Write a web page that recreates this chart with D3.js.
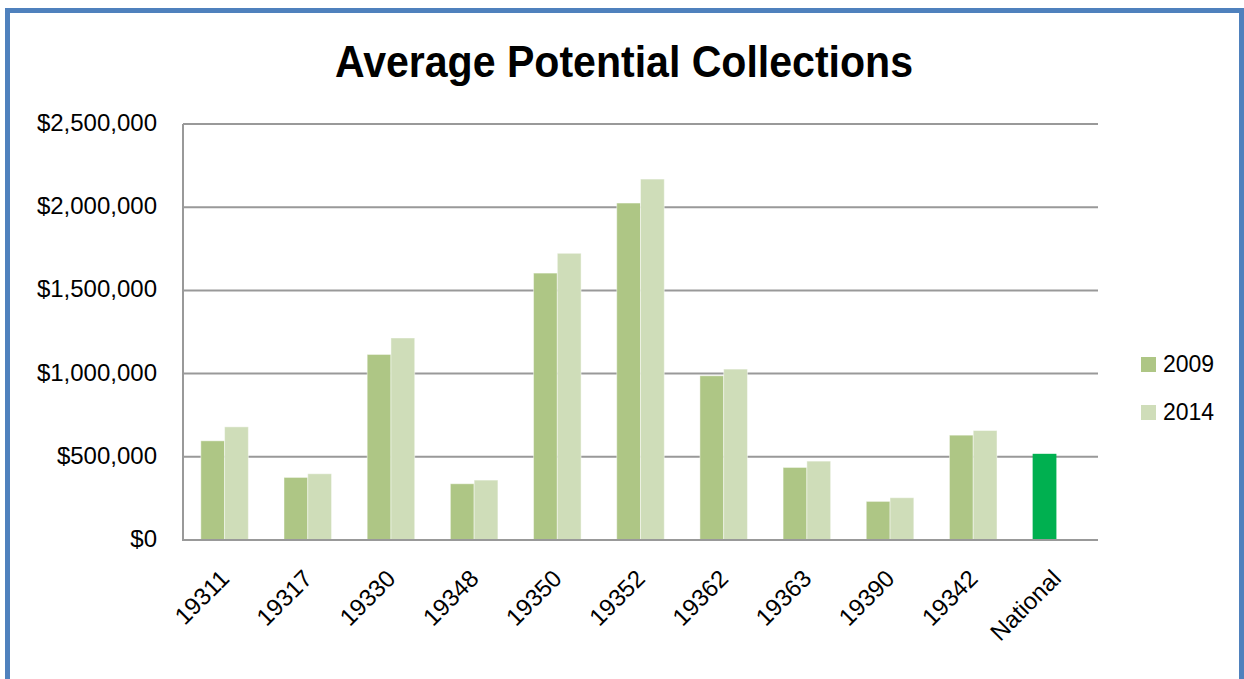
<!DOCTYPE html>
<html>
<head>
<meta charset="utf-8">
<script src="https://cdn.jsdelivr.net/npm/d3@7"></script>
<style>
  html, body { margin: 0; padding: 0; background: #fff; }
  svg { display: block; }
  text { font-family: "Liberation Sans", Arial, sans-serif; fill: #000; }
</style>
</head>
<body>
<svg id="chart" width="1244" height="679"></svg>
<script>
// Zip codes compared against the national figure
const categories = ["19311", "19317", "19330", "19348", "19350", "19352", "19362", "19363", "19390", "19342", "National"];
const seriesNames = ["2009", "2014"];
const values2009 = [596000, 376000, 1115000, 338000, 1604000, 2025000, 987000, 436000, 232000, 630000, 518000];
const values2014 = [680000, 398000, 1214000, 360000, 1723000, 2169000, 1027000, 474000, 254000, 658000, null];
const yTicks = [0, 500000, 1000000, 1500000, 2000000, 2500000];

const seriesColors = { "2009": "#aec685", "2014": "#cfddb9" };
const nationalColor = "#00b050";

const svg = d3.select("#chart");

// Outer frame
svg.append("rect")
  .attr("x", 7.5).attr("y", 10.5)
  .attr("width", 1234).attr("height", 720)
  .attr("fill", "#fff")
  .attr("stroke", "#4f81bd")
  .attr("stroke-width", 5);

// Title
svg.append("text")
  .attr("x", 624).attr("y", 77)
  .attr("text-anchor", "middle")
  .attr("font-size", 44)
  .attr("font-weight", "bold")
  .attr("textLength", 578)
  .attr("lengthAdjust", "spacingAndGlyphs")
  .text("Average Potential Collections");

const plot = { left: 183, right: 1098, top: 124, bottom: 540 };

const x = d3.scaleBand()
  .domain(categories)
  .range([plot.left, plot.right])
  .paddingInner(0).paddingOuter(0);

const xSub = d3.scaleBand()
  .domain(seriesNames)
  .range([0, x.bandwidth()])
  .paddingInner(0).paddingOuter(0.75);

const y = d3.scaleLinear()
  .domain([0, 2500000])
  .range([plot.bottom, plot.top]);

// Horizontal gridlines
svg.append("g")
  .selectAll("line")
  .data(yTicks)
  .join("line")
  .attr("x1", plot.left).attr("x2", plot.right)
  .attr("y1", d => y(d)).attr("y2", d => y(d))
  .attr("stroke", "#999")
  .attr("stroke-width", 2);

// Vertical axis line
svg.append("line")
  .attr("x1", plot.left).attr("x2", plot.left)
  .attr("y1", plot.top).attr("y2", plot.bottom)
  .attr("stroke", "#999")
  .attr("stroke-width", 2);

// Y axis labels
const fmt = d3.format("$,.0f");
svg.append("g")
  .selectAll("text")
  .data(yTicks)
  .join("text")
  .attr("x", 157)
  .attr("y", d => y(d) + 7)
  .attr("text-anchor", "end")
  .attr("font-size", 24)
  .text(d => fmt(d));

// Bars
const rows = categories.map((c, i) => ({
  category: c,
  values: [
    { series: "2009", value: values2009[i] },
    { series: "2014", value: values2014[i] }
  ].filter(v => v.value != null)
}));

const groups = svg.append("g")
  .selectAll("g")
  .data(rows)
  .join("g")
  .attr("transform", d => `translate(${x(d.category)},0)`);

groups.selectAll("rect")
  .data(d => d.values.map(v => ({ ...v, category: d.category })))
  .join("rect")
  .attr("x", d => xSub(d.series))
  .attr("width", xSub.bandwidth())
  .attr("y", d => y(d.value))
  .attr("height", d => y(0) - y(d.value))
  .attr("fill", d => d.category === "National" ? nationalColor : seriesColors[d.series])
  .attr("stroke", d => d.category === "National" ? "none" : "rgba(255,255,255,0.45)")
  .attr("stroke-width", 1);

// X axis line drawn above the bars
svg.append("line")
  .attr("x1", plot.left - 1).attr("x2", plot.right)
  .attr("y1", y(0)).attr("y2", y(0))
  .attr("stroke", "#999")
  .attr("stroke-width", 2);

// Category labels, rotated
svg.append("g")
  .selectAll("text")
  .data(categories)
  .join("text")
  .attr("text-anchor", "end")
  .attr("font-size", 24)
  .attr("transform", d => `translate(${x(d) + x.bandwidth() / 2 + 6},580) rotate(-45)`)
  .text(d => d);

// Legend
const legend = svg.append("g")
  .selectAll("g")
  .data(seriesNames)
  .join("g")
  .attr("transform", (d, i) => `translate(1141,${357 + i * 48})`);

legend.append("rect")
  .attr("width", 15).attr("height", 15)
  .attr("fill", d => seriesColors[d]);

legend.append("text")
  .attr("x", 22).attr("y", 15)
  .attr("font-size", 23)
  .text(d => d);
</script>
</body>
</html>
